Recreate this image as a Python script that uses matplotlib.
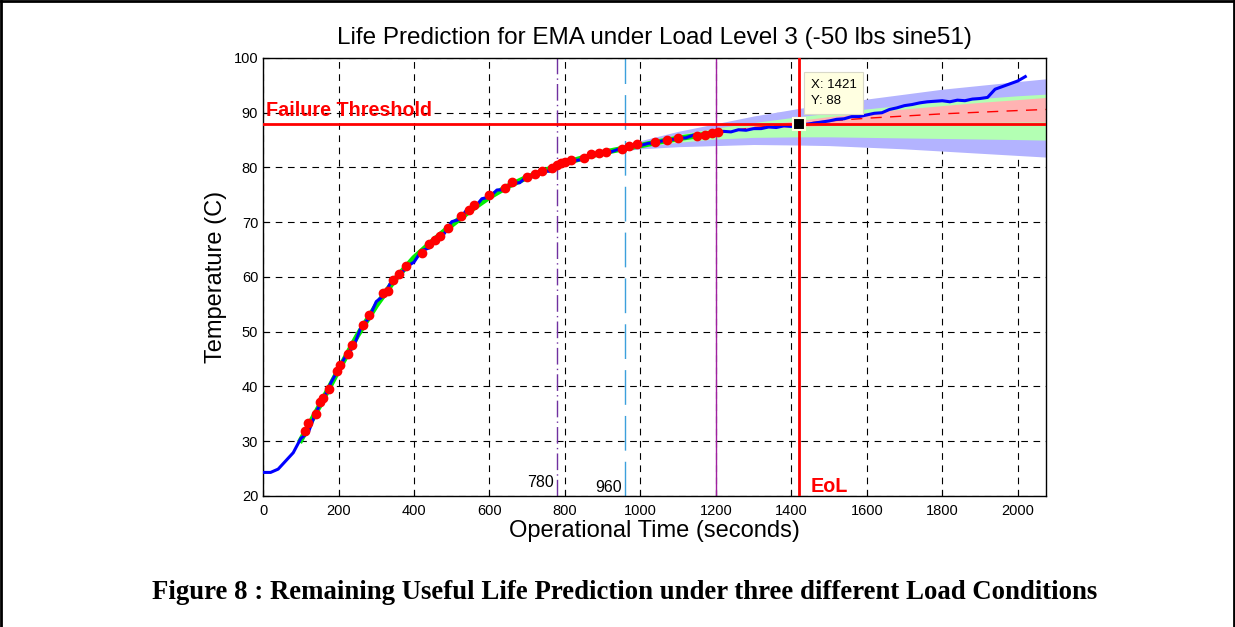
import numpy as np
import matplotlib
matplotlib.use("Agg")
import matplotlib.pyplot as plt
from matplotlib.lines import Line2D

plt.rcParams['font.family'] = ['Liberation Sans', 'DejaVu Sans']

# measured temperature (blue), sampled every 20 s
meas_t = np.arange(0, 2040, 20)
meas_T = [24.3, 24.3, 24.9, 26.4, 27.9, 30.5, 31.6, 35.3, 37.7, 40.7,
          43.2, 45.7, 47.3, 50.9, 52.4, 55.5, 56.6, 59.2, 60.0, 61.9,
          62.7, 64.8, 65.3, 67.3, 67.9, 70.1, 70.5, 72.3, 72.6, 74.3,
          74.6, 75.9, 75.9, 77.2, 77.2, 78.4, 78.3, 79.4, 79.3, 80.3,
          80.5, 81.2, 81.4, 82.0, 82.2, 82.7, 82.8, 83.3, 83.4, 83.9,
          84.0, 84.4, 84.5, 84.9, 85.0, 85.4, 85.4, 85.9, 85.9, 86.3,
          86.2, 86.6, 86.5, 86.9, 86.8, 87.1, 87.1, 87.4, 87.3, 87.6,
          87.5, 88.0, 87.9, 88.1, 88.3, 88.5, 88.8, 88.9, 89.3, 89.3,
          89.6, 89.9, 90.0, 90.6, 90.9, 91.3, 91.5, 91.8, 92.0, 92.1,
          92.2, 92.0, 92.3, 92.2, 92.5, 92.6, 92.8, 94.3, 94.8, 95.3,
          95.8, 96.6]

# model estimate (green)
model_t = [100, 150, 200, 250, 300, 350, 400, 450, 500, 550, 600, 650,
           700, 750, 800, 850, 900, 950, 1000, 1050, 1100, 1150, 1200]
model_T = [30.2, 36.5, 43.0, 49.3, 54.8, 59.6, 63.5, 66.6, 69.5, 72.2, 74.6,
           76.6, 78.2, 79.5, 80.8, 81.8, 82.7, 83.4, 84.0, 84.7, 85.3, 85.8, 86.3]

# filtered measurements (red dots)
dot_t = [112, 120, 140, 150, 160, 175, 195, 205, 225, 235,
         265, 280, 318, 330, 345, 360, 380, 420, 440, 455, 470,
         490, 525, 545, 560, 600, 640, 660, 700, 720, 740,
         765, 780, 790, 800, 815, 850, 870, 890, 910, 950, 970, 990,
         1040, 1070, 1100, 1150, 1170, 1190, 1205]
dot_T = [31.8, 33.3, 35.0, 37.2, 37.9, 39.6, 42.8, 44.0, 46.0, 47.6,
         51.2, 53.0, 57.0, 57.5, 59.5, 60.6, 62.0, 64.3, 66.0, 66.7, 67.5,
         69.0, 71.2, 72.3, 73.1, 75.0, 76.2, 77.3, 78.3, 78.8, 79.3,
         79.9, 80.4, 80.8, 81.0, 81.3, 81.8, 82.4, 82.6, 82.9, 83.4, 83.9, 84.2,
         84.7, 85.1, 85.4, 85.8, 86.0, 86.3, 86.5]

# prediction bounds from t = 780 (blue), 960 (green), 1200 (red)
b780_t = [900, 1000, 1100, 1200, 1300, 1421, 1500, 1600, 1700, 1800, 1900, 2000, 2075]
b780_hi = [82.6, 84.9, 86.6, 88.0, 89.4, 90.8, 91.6, 92.5, 93.4, 94.3, 95.0, 95.7, 96.2]
b780_lo = [82.6, 83.4, 83.8, 84.0, 84.2, 84.1, 84.0, 83.7, 83.4, 83.0, 82.6, 82.2, 81.9]

b960_t = [1000, 1100, 1200, 1300, 1421, 1500, 1600, 1700, 1800, 1900, 2000, 2075]
b960_hi = [84.6, 86.0, 87.2, 88.2, 89.3, 89.9, 90.7, 91.4, 92.0, 92.6, 93.1, 93.4]
b960_lo = [83.8, 84.6, 85.2, 85.5, 85.6, 85.6, 85.5, 85.4, 85.3, 85.2, 85.1, 85.0]

b1200_t = [1200, 1300, 1421, 1500, 1600, 1700, 1800, 1900, 2000, 2075]
b1200_hi = [86.4, 87.6, 88.6, 89.3, 90.0, 90.7, 91.3, 91.9, 92.4, 92.8]
b1200_lo = [86.2, 87.0, 87.5, 87.7, 87.9, 88.0, 88.1, 88.2, 88.3, 88.3]
b1200_mean = [86.3, 87.3, 88.0, 88.5, 89.0, 89.4, 89.8, 90.1, 90.4, 90.6]

threshold = 88
eol = 1421
pred_points = [780, 960, 1200]

fig = plt.figure(figsize=(12.35, 6.27), dpi=100)
ax = fig.add_axes([0.213, 0.209, 0.634, 0.6985])

# prediction bands
ax.fill_between(b780_t, b780_lo, b780_hi, color='#b3b3ff', lw=0, zorder=1)
ax.fill_between(b960_t, b960_lo, b960_hi, color='#b3ffb3', lw=0, zorder=1.1)
ax.fill_between(b1200_t, b1200_lo, b1200_hi, color='#ffb3b3', lw=0, zorder=1.2)
ax.plot(b1200_t, b1200_mean, color='red', lw=1, dashes=(8, 6), zorder=2)

# prediction start markers
ax.axvline(pred_points[0], color='#7030a0', lw=1, ls=(0, (12, 3, 1, 3)), zorder=2)
ax.axvline(pred_points[1], color='#3ca0dc', lw=1, ls=(0, (25, 8)), zorder=2)
ax.axvline(pred_points[2], color='#a020a0', lw=1, zorder=2)

ax.plot(model_t, model_T, color='#00ee00', lw=4, zorder=3)
ax.plot(meas_t, meas_T, color='#0000ff', lw=2.2, zorder=4)
ax.plot(dot_t, dot_T, 'o', color='red', ms=6, mec='red', zorder=5)

ax.axhline(threshold, color='red', lw=2, zorder=6)
ax.axvline(eol, color='red', lw=2, zorder=6)

# data tip
ax.plot([eol], [threshold], 's', color='black', ms=8, mec='#ffffe1', mew=1.5, zorder=8)
ax.text(1452, 96.2, 'X: 1421\nY: 88', fontsize=9.5, va='top', ha='left', zorder=9,
        linespacing=1.5,
        bbox=dict(boxstyle='square,pad=0.5', fc='#ffffe1', ec='#d8d8c8', lw=0.8))

ax.text(8, 90.4, 'Failure Threshold', color='red', fontsize=14.2, fontweight='bold',
        va='center', ha='left', zorder=7)
ax.text(1450, 21.7, 'EoL', color='red', fontsize=14.2, fontweight='bold',
        va='center', ha='left', zorder=7)
ax.text(770, 22.4, '780', fontsize=11.5, ha='right', va='center')
ax.text(950, 21.6, '960', fontsize=11.5, ha='right', va='center')

ax.set_xlim(0, 2075)
ax.set_ylim(20, 100)
ax.set_xticks(range(0, 2001, 200))
ax.set_yticks(range(20, 101, 10))
ax.tick_params(direction='in', labelsize=10.5, length=4)
ax.tick_params(axis='x', pad=6)
ax.grid(True, color='black', ls=(0, (6, 5)), lw=0.8)
ax.set_axisbelow(True)
for s in ax.spines.values():
    s.set_linewidth(1)

ax.set_title('Life Prediction for EMA under Load Level 3 (-50 lbs sine51)', fontsize=17.5, pad=10)
ax.set_xlabel('Operational Time (seconds)', fontsize=17, labelpad=1)
ax.set_ylabel('Temperature (C)', fontsize=17, labelpad=5)

fig.text(0.506, 0.055, 'Figure 8 : Remaining Useful Life Prediction under three different Load Conditions',
         ha='center', va='center', fontsize=19.3, fontweight='bold', family='Liberation Serif')

# page frame
for xs, ys in [([0.001, 0.001], [0, 0.998]), ([0.001, 0.999], [0.998, 0.998]),
               ([0.999, 0.999], [0, 0.998])]:
    fig.add_artist(Line2D(xs, ys, color='black', lw=2, transform=fig.transFigure))

fig.savefig('out.png', dpi=100)
